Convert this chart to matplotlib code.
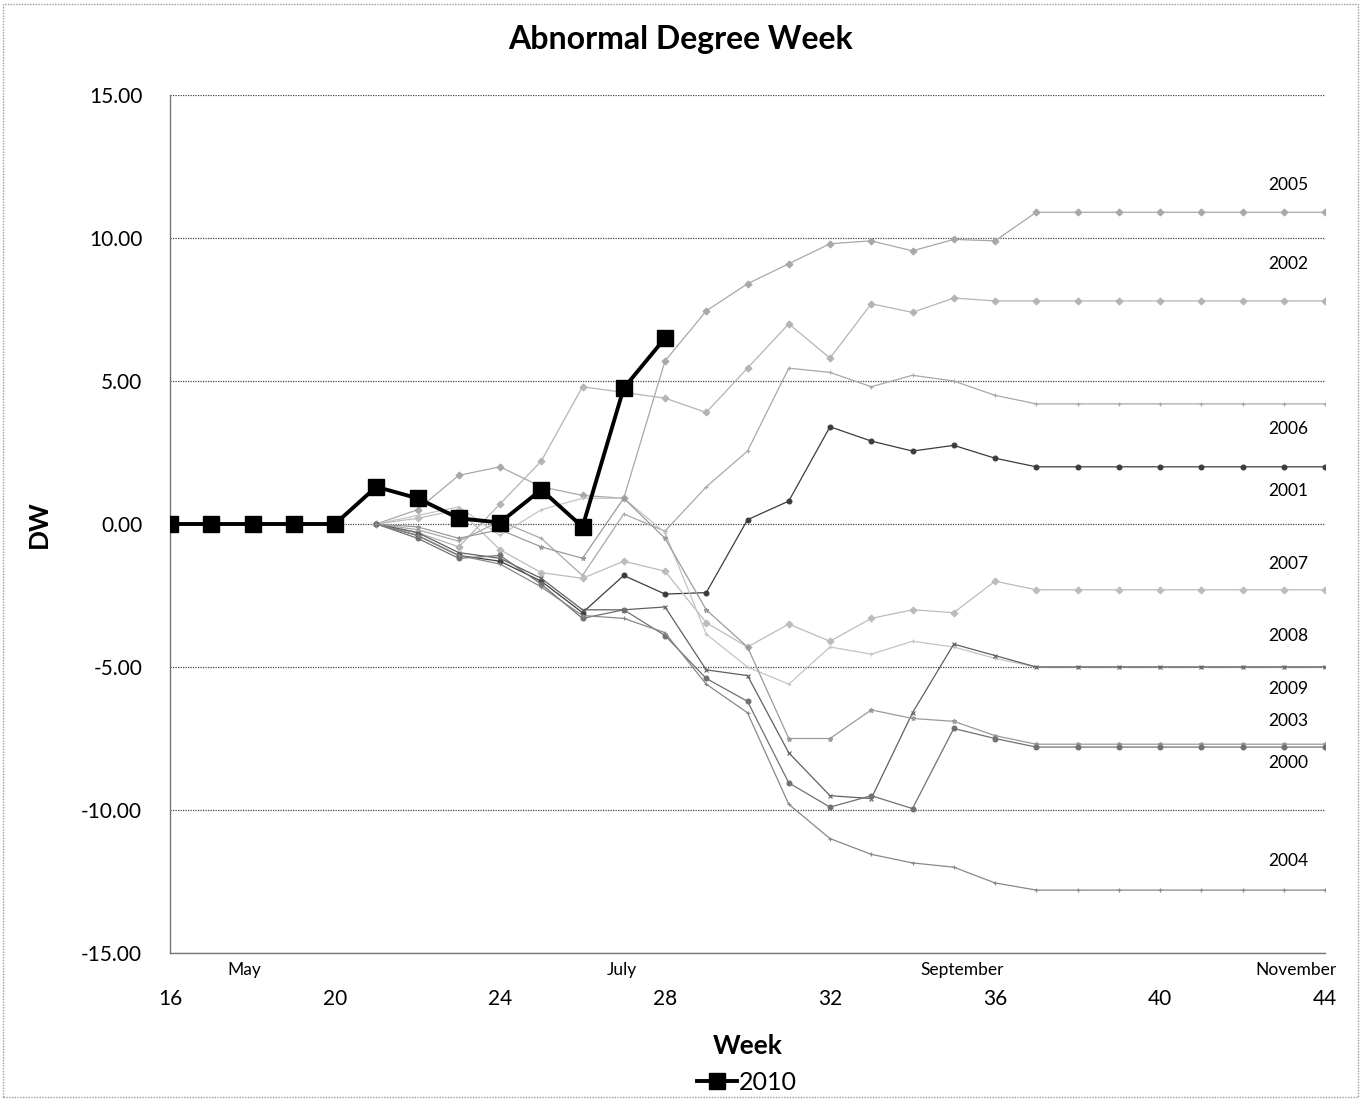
import matplotlib.pyplot as plt
from matplotlib.patches import Rectangle

plt.rcParams['font.family'] = ['Lato', 'DejaVu Sans']

# weeks and the 2010 season so far
weeks_2010 = [16, 17, 18, 19, 20, 21, 22, 23, 24, 25, 26, 27, 28]
dw_2010 = [0, 0, 0, 0, 0, 1.3, 0.9, 0.2, 0.05, 1.2, -0.1, 4.75, 6.5]

# earlier years, weeks 21..44
weeks_hist = list(range(21, 45))
dw_2005 = [0, 0.5, 1.7, 2.0, 1.3, 1.0, 0.9, 5.7, 7.45, 8.4, 9.1, 9.8, 9.9, 9.55, 9.95, 9.9] + [10.9] * 8
dw_2002 = [0, -0.3, -0.8, 0.7, 2.2, 4.8, 4.6, 4.4, 3.9, 5.45, 7.0, 5.8, 7.7, 7.4, 7.9, 7.8] + [7.8] * 8
dw_2006 = [0, -0.2, -0.6, 0.1, -0.5, -1.8, 0.35, -0.25, 1.3, 2.55, 5.45, 5.3, 4.8, 5.2, 5.0, 4.5] + [4.2] * 8
dw_2001 = [0, -0.4, -1.1, -1.3, -2.0, -3.1, -1.8, -2.45, -2.4, 0.15, 0.8, 3.4, 2.9, 2.55, 2.75, 2.3] + [2.0] * 8
dw_2007 = [0, 0.2, 0.5, -0.9, -1.7, -1.9, -1.3, -1.65, -3.45, -4.3, -3.5, -4.1, -3.3, -3.0, -3.1, -2.0] + [-2.3] * 8
dw_2008 = [0, 0.3, 0.6, -0.4, 0.5, 0.9, 0.9, -0.3, -3.85, -5.0, -5.6, -4.3, -4.55, -4.1, -4.3, -4.7] + [-5.0] * 8
dw_2009 = [0, -0.3, -1.0, -1.2, -1.9, -3.0, -3.0, -2.9, -5.1, -5.3, -8.0, -9.5, -9.6, -6.6, -4.2, -4.6] + [-5.0] * 8
dw_2003 = [0, -0.1, -0.5, -0.2, -0.8, -1.2, 0.9, -0.5, -3.0, -4.3, -7.5, -7.5, -6.5, -6.8, -6.9, -7.4] + [-7.7] * 8
dw_2000 = [0, -0.5, -1.2, -1.1, -2.1, -3.3, -3.0, -3.9, -5.4, -6.2, -9.05, -9.9, -9.5, -9.95, -7.15, -7.5] + [-7.8] * 8
dw_2004 = [0, -0.4, -1.1, -1.4, -2.2, -3.2, -3.3, -3.8, -5.6, -6.6, -9.8, -11.0, -11.55, -11.85, -12.0, -12.55] + [-12.8] * 8

years = ['2005', '2002', '2006', '2001', '2007', '2008', '2009', '2003', '2000', '2004']
series = [dw_2005, dw_2002, dw_2006, dw_2001, dw_2007, dw_2008, dw_2009, dw_2003, dw_2000, dw_2004]
colors = ['#a8a8a8', '#b4b4b4', '#a8a8a8', '#3c3c3c', '#bcbcbc', '#c4c4c4', '#606060', '#9a9a9a', '#707070', '#888888']
markers = ['D', 'D', '+', 'o', 'D', '+', 'x', '*', 'o', '+']

# label positions for the year names at the right edge
label_y = [11.85, 9.09, 3.32, 1.15, -1.40, -3.92, -5.77, -6.89, -8.36, -11.78]

months = ['May', 'July', 'September', 'November']
month_x = [17.8, 26.95, 35.2, 43.3]

fig = plt.figure(figsize=(13.63, 10.99), dpi=100)
ax = fig.add_axes([170 / 1363, 1 - 953 / 1099, 1155 / 1363, 858 / 1099])

for yr, vals, c, m in zip(years, series, colors, markers):
    ax.plot(weeks_hist, vals, color=c, lw=0.9, marker=m, markersize=3.5,
            markeredgewidth=0.8, zorder=2)

ax.plot(weeks_2010, dw_2010, color='black', lw=2.8, marker='s', markersize=11,
        label='2010', zorder=5)

for yr, ly in zip(years, label_y):
    ax.text(43.1, ly, yr, ha='center', va='center', fontsize=12.5)

for mo, mx in zip(months, month_x):
    ax.text(mx, -15.6, mo, ha='center', va='center', fontsize=12.5)

ax.set_xlim(16, 44)
ax.set_ylim(-15, 15)
ax.set_xticks(range(16, 45, 4))
ax.set_yticks(range(-15, 16, 5))
ax.set_yticklabels(['%.2f' % v for v in range(-15, 16, 5)])
ax.tick_params(axis='both', labelsize=15, length=0)
ax.tick_params(axis='x', pad=26)
ax.tick_params(axis='y', pad=20)
ax.yaxis.grid(True, color='#444444', lw=0.9, linestyle=(0, (1, 1)))
ax.set_axisbelow(True)
for s in ['top', 'right']:
    ax.spines[s].set_visible(False)
for s in ['left', 'bottom']:
    ax.spines[s].set_color('#777777')
    ax.spines[s].set_linewidth(1.0)

ax.set_xlabel('Week', fontsize=19, fontweight='bold', labelpad=18)
ax.set_ylabel('DW', fontsize=19, fontweight='bold', labelpad=22)
fig.text(681 / 1363, 1 - 40 / 1099, 'Abnormal Degree Week', ha='center', va='center',
         fontsize=23, fontweight='bold')

fig.legend(loc='center', bbox_to_anchor=(747 / 1363, 1 - 1082 / 1099), frameon=False,
           fontsize=18, handlelength=1.6, handletextpad=0.1)

fig.patches.append(Rectangle((0.002, 0.002), 0.994, 0.994, transform=fig.transFigure,
                             fill=False, edgecolor='#999999', lw=1, linestyle=(0, (1, 1))))

fig.savefig('out.png', dpi=100)
